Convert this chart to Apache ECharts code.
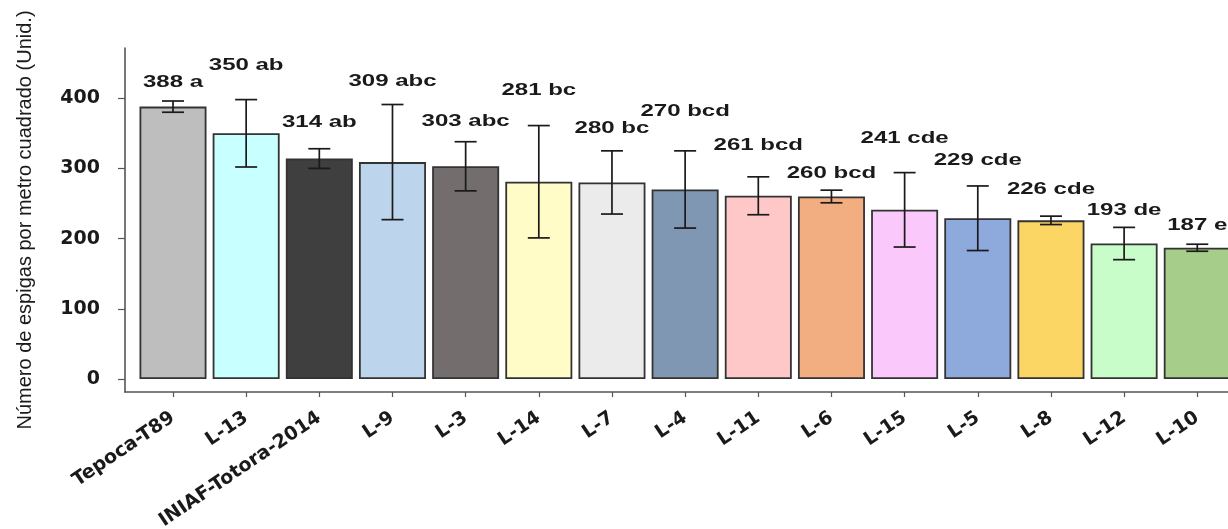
<!DOCTYPE html>
<html>
<head>
<meta charset="utf-8">
<script src="https://cdn.jsdelivr.net/npm/echarts@6/dist/echarts.min.js"></script>
<style>
html,body{margin:0;padding:0;background:#fff;}
#chart{width:1228px;height:529px;}
</style>
</head>
<body>
<div id="chart"></div>
<script>
const categories = ['Tepoca-T89','L-13','INIAF-Totora-2014','L-9','L-3','L-14','L-7','L-4','L-11','L-6','L-15','L-5','L-8','L-12','L-10'];
const means = [388,350,314,309,303,281,280,270,261,260,241,229,226,193,187];
const errors = [8,48,14,82,35,80,45,55,27,9,53,46,6,23,5];
const letters = ['a','ab','ab','abc','abc','bc','bc','bcd','bcd','bcd','cde','cde','cde','de','e'];
const labelLevels = [422,447,365,424,367,411,356,381,332,293,342,311,270,240,219];
const barColors = ['#bebebe','#c8ffff','#3f3f3f','#bdd5ec','#736d6d','#fffcc8','#ebebeb','#8097b3','#ffc8c8','#f2ae80','#fbc8fb','#8eaadc','#fcd664','#c8fcc8','#a6ce8a'];
const yTicks = [0,100,200,300,400];

const chart = echarts.init(document.getElementById('chart'));
const idx = categories.map((c,i)=>i);

const option = {
  animation:false,
  backgroundColor:'#ffffff',
  grid:{left:125,right:0,top:48,bottom:137,containLabel:false,outerBoundsMode:'none'},
  xAxis:{
    type:'value', min:-0.656, max:14.42,
    axisLine:{show:true,onZero:false,lineStyle:{color:'#555',width:1.6}},
    axisTick:{show:true,customValues:idx,length:5,lineStyle:{color:'#555',width:1.2}},
    axisLabel:{customValues:idx,rotate:34,margin:24,color:'#1a1a1a',
      fontFamily:'DejaVu Sans',fontWeight:'bold',fontSize:19,
      formatter:v=>categories[Math.round(v)]},
    splitLine:{show:false}
  },
  yAxis:{
    type:'value', min:-18.5, max:471.5,
    name:'Número de espigas por metro cuadrado (Unid.)',
    nameLocation:'middle', nameGap:90, nameRotate:90,
    nameTextStyle:{fontFamily:'Liberation Sans',fontSize:20,color:'#1a1a1a'},
    axisLine:{show:true,onZero:false,lineStyle:{color:'#555',width:1.6}},
    axisTick:{show:true,customValues:yTicks,length:7,lineStyle:{color:'#555',width:1.2}},
    axisLabel:{customValues:yTicks,margin:25,color:'#1a1a1a',
      fontFamily:'DejaVu Sans',fontWeight:'bold',fontSize:19},
    splitLine:{show:false}
  },
  series:[
    {
      type:'bar',
      barWidth:67,
      data:means.map((v,i)=>({value:[i,v],itemStyle:{color:barColors[i]}})),
      itemStyle:{borderColor:'#333',borderWidth:1.8},
      emphasis:{disabled:true},
      z:2
    },
    {
      type:'custom',
      data:means.map((v,i)=>[i,v,errors[i],labelLevels[i]]),
      z:5,
      renderItem:function(params,api){
        const i=api.value(0), v=api.value(1), e=api.value(2), ly=api.value(3);
        const top=api.coord([i,v+e]), bot=api.coord([i,v-e]), lab=api.coord([i,ly]);
        const hw=11;
        const ls={stroke:'#1a1a1a',lineWidth:1.7};
        return {type:'group',children:[
          {type:'line',shape:{x1:top[0],y1:top[1],x2:bot[0],y2:bot[1]},style:ls},
          {type:'line',shape:{x1:top[0]-hw,y1:top[1],x2:top[0]+hw,y2:top[1]},style:ls},
          {type:'line',shape:{x1:bot[0]-hw,y1:bot[1],x2:bot[0]+hw,y2:bot[1]},style:ls},
          {type:'text',x:lab[0],y:lab[1],scaleX:1.5,
            style:{text:means[params.dataIndex]+' '+letters[params.dataIndex],x:0,y:0,
              align:'center',verticalAlign:'middle',
              font:'bold 16px "Liberation Sans"',fill:'#1a1a1a'}}
        ]};
      }
    }
  ]
};
chart.setOption(option);
</script>
</body>
</html>
